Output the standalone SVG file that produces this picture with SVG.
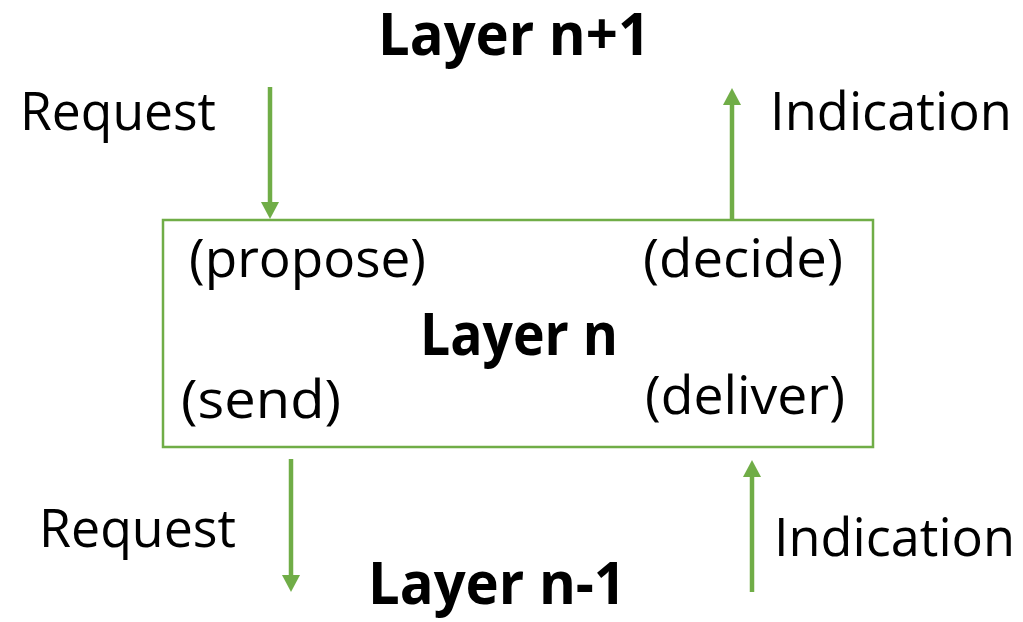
<svg xmlns="http://www.w3.org/2000/svg" width="1023" height="622" viewBox="0 0 1023 622">
  <defs>
    <style>
      .lbl { font-family: "Open Sans", "Liberation Sans", sans-serif; font-size: 53px; fill: #000; }
      .hdr { font-family: "Open Sans", "Liberation Sans", sans-serif; font-size: 59px; font-weight: bold; fill: #000; }
      .wire { stroke: #70AD47; stroke-width: 4.5; fill: none; }
      .box { stroke: #70AD47; stroke-width: 2.5; fill: #fff; }
    </style>
    <!-- arrowhead sits past the line end, base on the end point -->
    <marker id="head" viewBox="0 0 17 18" refX="0" refY="9" markerWidth="17" markerHeight="18" markerUnits="userSpaceOnUse" orient="auto">
      <path d="M0,0 L17,9 L0,18 z" fill="#70AD47"/>
    </marker>
  </defs>

  <rect width="1023" height="622" fill="#fff"/>

  <g id="layer-n-plus-1">
    <text class="hdr" x="378" y="55" textLength="272" lengthAdjust="spacingAndGlyphs">Layer n+1</text>
  </g>

  <g id="layer-n">
    <rect class="box" x="163" y="220" width="710" height="227"/>
    <text class="lbl" x="189" y="277" textLength="237" lengthAdjust="spacingAndGlyphs">(propose)</text>
    <text class="lbl" x="643" y="277" textLength="200" lengthAdjust="spacingAndGlyphs">(decide)</text>
    <text class="hdr" x="420" y="355" textLength="198" lengthAdjust="spacingAndGlyphs">Layer n</text>
    <text class="lbl" x="181" y="418" textLength="160" lengthAdjust="spacingAndGlyphs">(send)</text>
    <text class="lbl" x="645" y="414" textLength="200" lengthAdjust="spacingAndGlyphs">(deliver)</text>
  </g>

  <g id="layer-n-minus-1">
    <text class="hdr" x="368" y="604" textLength="258" lengthAdjust="spacingAndGlyphs">Layer n-1</text>
  </g>

  <g id="connectors">
    <line class="wire" x1="270" y1="87" x2="270" y2="202" marker-end="url(#head)"/>
    <line class="wire" x1="732" y1="220" x2="732" y2="105" marker-end="url(#head)"/>
    <line class="wire" x1="291" y1="459" x2="291" y2="575" marker-end="url(#head)"/>
    <line class="wire" x1="752" y1="592" x2="752" y2="477" marker-end="url(#head)"/>
  </g>

  <g id="labels">
    <text class="lbl" x="20" y="130" textLength="196" lengthAdjust="spacingAndGlyphs">Request</text>
    <text class="lbl" x="770" y="130" textLength="242" lengthAdjust="spacingAndGlyphs">Indication</text>
    <text class="lbl" x="39" y="547" textLength="197" lengthAdjust="spacingAndGlyphs">Request</text>
    <text class="lbl" x="774" y="556" textLength="241" lengthAdjust="spacingAndGlyphs">Indication</text>
  </g>
</svg>
